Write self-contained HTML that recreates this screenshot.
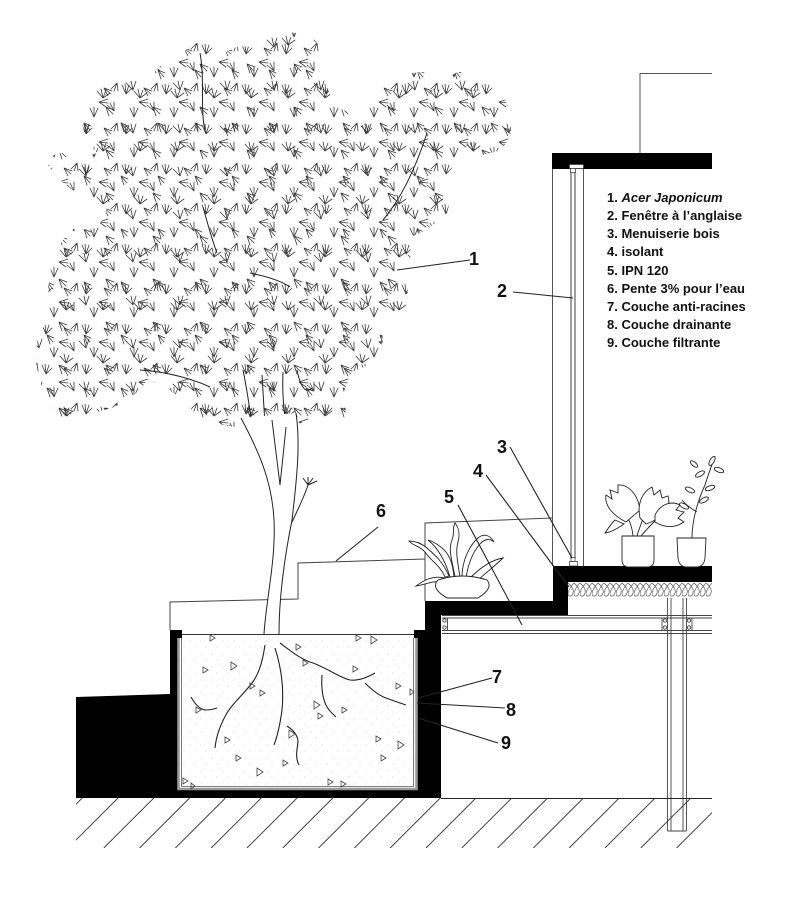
<!DOCTYPE html>
<html><head><meta charset="utf-8"><style>
html,body{margin:0;padding:0;background:#fff;}
svg{display:block;}
.lbl{font-family:"Liberation Sans",Arial,sans-serif;font-weight:bold;font-size:18px;fill:#111;}
.leg{font-family:"Liberation Sans",Arial,sans-serif;font-weight:bold;font-size:13px;fill:#111;}
</style></head><body>
<svg width="803" height="900" viewBox="0 0 803 900" xmlns="http://www.w3.org/2000/svg">
<defs>
<pattern id="fA" width="40" height="40" patternUnits="userSpaceOnUse">
<path d="M6,14 L2,5 M6,14 L5,4 M6,14 L9,5 M6,14 L12,8 M24,8 L31,14 M24,8 L28,16 M24,8 L32,11 M34,31 L27,25 M34,31 L30,23 M34,31 L34,22 M14,37 L10,28 M14,37 L14,27 M14,37 L18,28 M19,22 L28,19 M19,22 L28,23 M19,22 L26,27 M37,3 L31,9 M37,3 L34,11 M37,3 L38,11" stroke="#3a3a3a" stroke-width="0.8" fill="none" stroke-linecap="round"/>
</pattern>
<pattern id="fB" width="47" height="43" patternUnits="userSpaceOnUse" patternTransform="translate(9,17)">
<path d="M3,4 L11,7 M3,4 L10,11 M3,4 L6,13 M30,30 L23,23 M30,30 L28,21 M30,30 L33,21" stroke="#3a3a3a" stroke-width="0.8" fill="none" stroke-linecap="round"/>
</pattern>
<pattern id="fC" width="37" height="53" patternUnits="userSpaceOnUse" patternTransform="translate(21,5)">
<path d="M8,40 L2,33 M8,40 L6,31 M8,40 L11,32 M8,40 L15,35 M26,12 L33,15 M26,12 L32,19 M26,12 L29,21" stroke="#3a3a3a" stroke-width="0.8" fill="none" stroke-linecap="round"/>
</pattern>
<pattern id="ins" width="6" height="17" patternUnits="userSpaceOnUse" x="568" y="582">
<path d="M0,1 C4,4 6,8 5,11 C4,15 0,15 0,12 C0,9 3,4 6,1" stroke="#555" stroke-width="0.7" fill="none"/>
</pattern>
<pattern id="dots" width="11" height="13" patternUnits="userSpaceOnUse">
<circle cx="3" cy="4" r="0.6" fill="#d4d4d4"/><circle cx="8" cy="10" r="0.6" fill="#d4d4d4"/>
</pattern>
<clipPath id="crown">
<path d="M83,100 Q95,85 107,83 Q127,78 147,83 Q160,60 183,53 Q195,40 207,42 Q215,50 223,53 Q238,44 250,47 Q275,30 297,33 Q312,35 317,43 Q325,55 323,70 Q328,95 337,107 Q350,115 363,110 Q370,92 380,87 Q398,72 413,73 Q430,70 447,78 Q460,68 473,73 Q490,75 497,87 Q515,110 510,137 Q502,152 490,153 Q475,158 463,160 Q445,170 443,187 Q452,200 447,213 Q430,230 410,237 Q412,262 407,287 Q410,302 403,310 Q390,318 380,313 Q386,335 380,353 Q370,366 357,370 Q345,382 343,397 Q348,412 343,420 Q325,424 307,420 Q285,432 263,430 Q230,428 203,420 Q192,412 187,403 Q165,385 147,380 Q140,392 130,397 Q117,408 103,410 Q82,420 63,417 Q52,412 50,403 Q32,375 37,343 Q40,328 50,320 Q45,290 53,260 Q62,235 77,227 Q88,232 97,227 Q105,218 107,207 Q88,198 73,190 Q55,178 47,163 Q52,153 63,153 Q80,158 97,153 Q85,140 83,127 Q75,112 83,100 Z"/>
</clipPath>
<clipPath id="hatchclip"><rect x="76" y="798" width="636" height="50"/></clipPath>
</defs>

<rect width="803" height="900" fill="#fff"/>

<!-- top right thin line -->
<path d="M640,153 V73.5 H712" stroke="#555" stroke-width="1" fill="none"/>

<!-- background step lines -->
<path d="M170,630 L170,602 L298,599 L298,563 L425,559" stroke="#444" stroke-width="1" fill="none"/>
<path d="M425,601 L425,523 L552,518" stroke="#444" stroke-width="1" fill="none"/>

<!-- tree crown -->
<g clip-path="url(#crown)">
<rect x="30" y="30" width="490" height="410" fill="url(#fA)"/>
<rect x="30" y="30" width="490" height="410" fill="url(#fB)"/>
<rect x="30" y="30" width="490" height="410" fill="url(#fC)"/>
</g>
<g stroke="#222" stroke-width="1" fill="none">
<path d="M200,53 C205,80 200,110 205,130"/>
<path d="M427,133 C415,170 400,200 383,220"/>
<path d="M140,370 C170,372 195,380 210,387"/>
<path d="M203,207 C208,225 212,240 217,253"/>
<path d="M250,273 C265,276 280,280 290,287"/>
<path d="M243,370 C248,395 250,410 252,425"/>
<path d="M262,375 L265,425"/>
<path d="M283,372 C282,395 284,410 286,425"/>
<path d="M297,370 C300,385 305,395 312,388"/>
</g>

<!-- trunk -->
<path d="M241,418 C258,450 272,480 274,520 C276,560 266,600 264,634 L279,634 C279,600 284,560 292,520 C298,470 300,440 296,413 Z" fill="#fff"/>
<g stroke="#222" stroke-width="1" fill="none">
<path d="M241,418 C258,450 272,480 274,520 C276,560 266,600 264,634"/>
<path d="M296,413 C300,440 298,470 292,520 C284,560 279,600 279,634"/>
<path d="M272,420 L280,485 M286,427 L280,485"/>
<path d="M292,522 C300,505 305,495 308,485"/>
<path d="M308,485 L303,478 M308,485 L308,477 M308,485 L313,478 M308,485 L317,481"/>
</g>

<!-- upper slab -->
<rect x="552" y="153" width="160" height="16" fill="#000"/>
<!-- window -->
<line x1="552.5" y1="169" x2="552.5" y2="566" stroke="#555" stroke-width="1"/>
<line x1="583.5" y1="169" x2="583.5" y2="566" stroke="#555" stroke-width="1"/>
<rect x="571" y="172" width="4" height="386" fill="#fff" stroke="#777" stroke-width="1.4"/>
<rect x="569.5" y="164.5" width="14" height="4" fill="#fff" stroke="#333" stroke-width="0.7"/>
<rect x="570.5" y="168.5" width="5" height="4" fill="#fff" stroke="#333" stroke-width="0.7"/>
<rect x="571" y="557.5" width="4" height="4" fill="#fff" stroke="#333" stroke-width="0.7"/>
<rect x="569.5" y="561.5" width="8" height="4.5" fill="#fff" stroke="#333" stroke-width="0.7"/>

<!-- black structure -->
<g fill="#000">
<polygon points="76,697 170,694 170,798 76,798"/>
<rect x="170" y="630" width="12" height="8"/>
<rect x="170" y="630" width="8" height="168"/>
<rect x="170" y="790" width="271" height="8"/>
<rect x="414" y="630" width="11" height="8"/>
<rect x="417" y="630" width="24" height="168"/>
<rect x="425" y="601" width="16" height="30"/>
<rect x="425" y="601" width="143" height="14"/>
<rect x="553" y="566" width="15" height="49"/>
<rect x="553" y="566" width="159" height="16"/>
</g>

<!-- soil -->
<rect x="182" y="634" width="232" height="153" fill="#fff"/>
<rect x="182" y="634" width="232" height="153" fill="url(#dots)"/>
<path d="M178.5,638 V789 H416.5 V638" stroke="#999" stroke-width="2.6" fill="none"/>
<path d="M181.5,638 V786.5 H413.5 V638" stroke="#555" stroke-width="0.8" fill="none"/>
<line x1="182" y1="634.5" x2="414" y2="634.5" stroke="#333" stroke-width="1"/>

<!-- roots -->
<g stroke="#222" stroke-width="1.1" fill="none">
<path d="M265,645 C262,665 258,675 252,683 C242,696 232,704 227,713 C220,725 216,738 215,748"/>
<path d="M275,648 C282,670 284,690 282,710 C280,725 277,737 274,745"/>
<path d="M280,643 C292,652 302,660 313,663 C327,668 340,678 350,680 C358,681 368,677 375,673"/>
<path d="M322,675 C321,690 323,700 327,707 C330,712 334,715 336,717"/>
<path d="M365,683 C372,690 380,696 386,698 C394,701 400,703 406,705"/>
<path d="M191,697 C195,704 200,710 206,710 C210,710 214,709 217,708"/>
<path d="M287,726 C293,730 298,735 298,742 C297,750 295,758 299,765"/>
</g>
<!-- soil triangles -->
<g stroke="#444" stroke-width="0.8" fill="none">
<path d="M210,635 l5,3 l-5,3 z"/><path d="M231,662 l6,4 l-6,4 z"/><path d="M203,667 l5,3 l-5,3 z"/>
<path d="M250,683 l5,3 l-5,3 z"/><path d="M260,690 l5,3 l-5,3 z"/><path d="M196,707 l5,3 l-5,3 z"/>
<path d="M225,737 l5,3 l-5,3 z"/><path d="M236,755 l5,3 l-5,3 z"/><path d="M257,768 l6,4 l-6,4 z"/>
<path d="M283,760 l5,3 l-5,3 z"/><path d="M289,730 l6,4 l-6,4 z"/><path d="M296,644 l5,3 l-5,3 z"/>
<path d="M303,660 l5,3 l-5,3 z"/><path d="M314,701 l6,4 l-6,4 z"/><path d="M318,713 l5,3 l-5,3 z"/>
<path d="M342,707 l5,3 l-5,3 z"/><path d="M353,666 l5,3 l-5,3 z"/><path d="M356,635 l5,3 l-5,3 z"/>
<path d="M371,636 l6,4 l-6,4 z"/><path d="M396,683 l5,3 l-5,3 z"/><path d="M410,689 l4,3 l-4,3 z"/>
<path d="M376,736 l5,3 l-5,3 z"/><path d="M398,741 l6,4 l-6,4 z"/><path d="M381,755 l5,3 l-5,3 z"/>
<path d="M328,779 l5,3 l-5,3 z"/><path d="M341,781 l5,3 l-5,3 z"/><path d="M183,778 l5,3 l-5,3 z"/>
<path d="M191,783 l4,3 l-4,3 z"/>
</g>

<!-- insulation -->
<rect x="568" y="582" width="144" height="16" fill="url(#ins)"/>

<!-- beam -->
<g stroke="#444" stroke-width="0.9" fill="none">
<line x1="442" y1="615.5" x2="712" y2="615.5"/>
<line x1="442" y1="618" x2="712" y2="618"/>
<line x1="442" y1="630.5" x2="712" y2="630.5"/>
<line x1="442" y1="633.5" x2="712" y2="633.5"/>
<line x1="447.5" y1="618" x2="447.5" y2="630.5"/>
<line x1="662" y1="618" x2="662" y2="630.5"/>
<line x1="692" y1="618" x2="692" y2="630.5"/>
<circle cx="444.5" cy="620.5" r="1.7"/><circle cx="444.5" cy="627.5" r="1.7"/>
<circle cx="665" cy="620.5" r="1.7"/><circle cx="665" cy="627.5" r="1.7"/>
<circle cx="689" cy="620.5" r="1.7"/><circle cx="689" cy="627.5" r="1.7"/>
</g>
<!-- column -->
<g stroke="#444" stroke-width="0.9" fill="none">
<line x1="667.5" y1="598" x2="667.5" y2="831"/>
<line x1="671" y1="598" x2="671" y2="831"/>
<line x1="683" y1="598" x2="683" y2="831"/>
<line x1="686.5" y1="598" x2="686.5" y2="831"/>
<line x1="667.5" y1="831" x2="686.5" y2="831"/>
</g>

<!-- ground -->
<line x1="441" y1="798.5" x2="712" y2="798.5" stroke="#222" stroke-width="1"/>
<g clip-path="url(#hatchclip)" stroke="#333" stroke-width="0.9">
<line x1="82.2" y1="798" x2="32.2" y2="848"/><line x1="118" y1="798" x2="68" y2="848"/>
<line x1="153.8" y1="798" x2="103.8" y2="848"/><line x1="189.6" y1="798" x2="139.6" y2="848"/>
<line x1="225.4" y1="798" x2="175.4" y2="848"/><line x1="261.2" y1="798" x2="211.2" y2="848"/>
<line x1="297" y1="798" x2="247" y2="848"/><line x1="332.8" y1="798" x2="282.8" y2="848"/>
<line x1="368.6" y1="798" x2="318.6" y2="848"/><line x1="404.4" y1="798" x2="354.4" y2="848"/>
<line x1="440.2" y1="798" x2="390.2" y2="848"/><line x1="476" y1="798" x2="426" y2="848"/>
<line x1="511.8" y1="798" x2="461.8" y2="848"/><line x1="547.6" y1="798" x2="497.6" y2="848"/>
<line x1="583.4" y1="798" x2="533.4" y2="848"/><line x1="619.2" y1="798" x2="569.2" y2="848"/>
<line x1="655" y1="798" x2="605" y2="848"/><line x1="690.8" y1="798" x2="640.8" y2="848"/>
<line x1="726.6" y1="798" x2="676.6" y2="848"/>
</g>

<!-- plant on step -->
<g stroke="#222" stroke-width="0.9" fill="#fff">
<path d="M445,577 C440,565 430,560 425,552 C420,546 413,546 409,541 C415,541 421,543 427,548 C435,555 443,562 449,576 Z"/>
<path d="M450,577 C445,560 438,548 428,540 C432,541 440,545 446,552 C452,560 453,568 454,577 Z"/>
<path d="M455,577 C452,560 448,550 452,540 C455,532 452,528 455,523 C459,528 460,535 458,542 C455,552 458,563 460,577 Z"/>
<path d="M462,577 C462,560 470,545 478,538 C484,533 490,535 494,542 C490,538 484,539 480,544 C472,553 468,565 466,578 Z"/>
<path d="M470,578 C478,570 490,560 503,558 C496,565 488,571 478,580 Z"/>
<path d="M444,582 C432,580 425,585 416,586 C423,581 432,575 445,578 Z"/>
<path d="M438,580 Q462,572 487,580 Q494,588 478,598 L447,598 Q430,588 438,580 Z"/>
</g>

<!-- right plants -->
<g stroke="#222" stroke-width="0.9" fill="#fff">
<path d="M633,536 C632,525 628,518 624,510 M637,536 C640,525 645,515 648,505 M641,536 C648,528 655,520 665,512" fill="none"/>
<path d="M626,522 C614,516 604,506 606,495 L612,499 L610,490 L618,493 L618,485 C628,484 638,494 640,510 Z"/>
<path d="M615,520 C610,525 607,530 605,533 C612,532 618,528 624,524 Z"/>
<path d="M640,518 C637,504 642,492 652,487 L654,495 L660,490 L662,498 L668,496 C672,508 661,519 646,524 Z"/>
<path d="M655,515 C660,505 670,500 680,505 L676,510 L684,512 L678,518 L684,522 C675,528 665,528 655,522 Z"/>
<path d="M622,536 H654 V560 Q654,567 647,567 H629 Q622,567 622,560 Z"/>
<path d="M692,538 C692,520 698,500 705,485 C708,475 712,465 715,456 M697,512 C690,508 686,505 682,500" fill="none"/>
<ellipse cx="700" cy="474" rx="5" ry="2.2" transform="rotate(-30 700 474)"/>
<ellipse cx="712" cy="461" rx="5" ry="2.2" transform="rotate(-60 712 461)"/>
<ellipse cx="719" cy="470" rx="5" ry="2.2" transform="rotate(20 719 470)"/>
<ellipse cx="690" cy="490" rx="5" ry="2.2" transform="rotate(25 690 490)"/>
<ellipse cx="710" cy="488" rx="5" ry="2.2" transform="rotate(-20 710 488)"/>
<ellipse cx="684" cy="506" rx="5" ry="2.2" transform="rotate(30 684 506)"/>
<ellipse cx="704" cy="500" rx="5" ry="2.2" transform="rotate(-30 704 500)"/>
<ellipse cx="694" cy="464" rx="4.5" ry="2" transform="rotate(40 694 464)"/>
<path d="M677,538 H706 L705,558 Q704,567 696,567 H687 Q679,567 678,558 Z"/>
</g>

<!-- leaders -->
<g stroke="#222" stroke-width="1.1" fill="none">
<line x1="470" y1="260" x2="397" y2="270"/>
<line x1="513" y1="292" x2="573" y2="298"/>
<line x1="510" y1="447" x2="572" y2="558"/>
<line x1="486" y1="475" x2="569" y2="587"/>
<line x1="458" y1="505" x2="522" y2="625"/>
<line x1="378" y1="527" x2="336" y2="561"/>
<line x1="492" y1="678" x2="418" y2="698"/>
<line x1="505" y1="708" x2="417" y2="703"/>
<line x1="498" y1="743" x2="418" y2="718"/>
</g>

<!-- labels -->
<text class="lbl" x="469" y="265">1</text>
<text class="lbl" x="497" y="297">2</text>
<text class="lbl" x="497" y="453">3</text>
<text class="lbl" x="473" y="477">4</text>
<text class="lbl" x="444" y="503">5</text>
<text class="lbl" x="376" y="517">6</text>
<text class="lbl" x="492" y="683">7</text>
<text class="lbl" x="506" y="716">8</text>
<text class="lbl" x="501" y="749">9</text>

<!-- legend -->
<text class="leg" x="607" y="202">1. <tspan font-style="italic">Acer Japonicum</tspan></text>
<text class="leg" x="607" y="220">2. Fenêtre à l’anglaise</text>
<text class="leg" x="607" y="238">3. Menuiserie bois</text>
<text class="leg" x="607" y="256">4. isolant</text>
<text class="leg" x="607" y="275">5. IPN 120</text>
<text class="leg" x="607" y="293">6. Pente 3% pour l’eau</text>
<text class="leg" x="607" y="311">7. Couche anti-racines</text>
<text class="leg" x="607" y="329">8. Couche drainante</text>
<text class="leg" x="607" y="347">9. Couche filtrante</text>
</svg>
</body></html>
